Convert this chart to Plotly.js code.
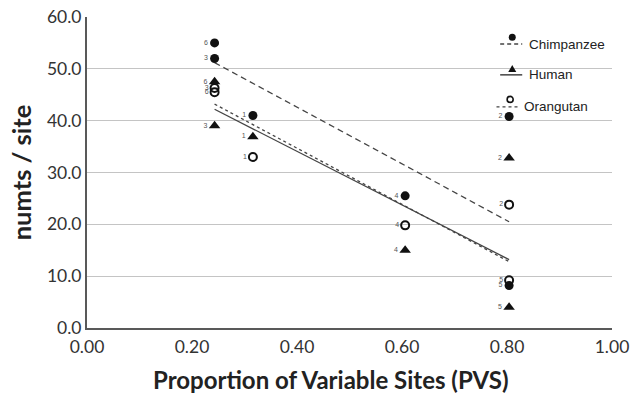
<!DOCTYPE html>
<html>
<head>
<meta charset="utf-8">
<script src="https://cdn.plot.ly/plotly-3.0.1.min.js"></script>
<style>html,body{margin:0;padding:0;background:#fff}#chart{width:630px;height:393px}</style>
</head>
<body>
<div id="chart"></div>
<script>
// Point labels (site numbers)
const labels = ["1", "2", "3", "4", "5", "6"];
// Proportion of Variable Sites for each site
const pvs = [0.316, 0.804, 0.243, 0.606, 0.804, 0.243];
// numts / site per species
const chimpanzee = [41.0, 40.8, 52.0, 25.5, 8.2, 55.0];
const human      = [36.9, 32.8, 39.0, 15.0, 4.0, 47.5];
const orangutan  = [33.0, 23.8, 46.3, 19.8, 9.2, 45.5];
// Trend line end points
const trendX = [0.243, 0.804];
const chimpTrend = [51.2, 20.5];
const humanTrend = [42.2, 13.2];
const orangTrend = [43.2, 12.8];
const yTicks = [0, 10, 20, 30, 40, 50, 60];
const xTicks = [0, 0.2, 0.4, 0.6, 0.8, 1.0];

const dark = '#111';
const lineCol = '#444';

function pts(y, symbol, name, lineW, fill, size) {
  return {
    x: pvs, y: y, type: 'scatter', mode: 'markers+text', name: name,
    text: labels, textposition: 'middle left',
    textfont: {family: 'Liberation Sans, Arial', size: 7, color: '#555'},
    marker: {symbol: symbol, size: size, color: fill, line: {color: dark, width: lineW}},
    showlegend: false, cliponaxis: false, hoverinfo: 'x+y'
  };
}
function trend(y, dash, w) {
  return {x: trendX, y: y, type: 'scatter', mode: 'lines',
          line: {color: lineCol, width: w, dash: dash}, showlegend: false, hoverinfo: 'skip'};
}

const data = [
  trend(chimpTrend, '6px,4px', 1.3),
  trend(humanTrend, 'solid', 1.3),
  trend(orangTrend, 'dot', 1.3),
  pts(chimpanzee, 'circle', 'Chimpanzee', 0, dark, 9),
  pts(human, 'triangle-up', 'Human', 0, dark, 10),
  pts(orangutan, 'circle-open', 'Orangutan', 2, dark, 8)
];

const tickFont = {family: 'Lato, Carlito, sans-serif', size: 17.5, color: '#333'};
const legTxt = {family: 'Liberation Sans, Arial', size: 13.5, color: '#222'};
const yTitleFont = {family: 'Lato, sans-serif', size: 25.5, color: '#222', weight: 'bold'};
const xTitleFont = {family: 'Lato, sans-serif', size: 24, color: '#222', weight: 'bold'};

function leg(x, y, text, font, xanchor) {
  return {xref: 'paper', yref: 'paper', x: x, y: y, text: text, showarrow: false,
          xanchor: xanchor, yanchor: 'middle', font: font};
}
function pixShape(type, x, y, extra) {
  return Object.assign({type: type, xref: 'paper', yref: 'paper', xsizemode: 'pixel', ysizemode: 'pixel',
                        xanchor: x, yanchor: y}, extra);
}

const layout = {
  width: 630, height: 393,
  margin: {l: 87, r: 18, t: 17, b: 65},
  paper_bgcolor: '#fff', plot_bgcolor: '#fff',
  xaxis: {
    range: [0, 1], tickvals: xTicks, tickformat: '.2f', showgrid: false,
    zeroline: false, showline: true, linecolor: '#595959', linewidth: 2,
    ticks: '', tickfont: tickFont, ticklabelstandoff: 2
  },
  yaxis: {
    range: [0, 60], tickvals: yTicks, tickformat: '.1f', showgrid: true,
    gridcolor: '#c4c4c4', gridwidth: 1.3, zeroline: false, showline: true,
    linecolor: '#595959', linewidth: 2, ticks: '', tickfont: tickFont,
    title: {text: 'numts / site', standoff: 8, font: yTitleFont}
  },
  shapes: [
    {type: 'line', xref: 'paper', yref: 'paper', x0: 0.787, x1: 0.829, y0: 0.913, y1: 0.913,
     line: {color: lineCol, width: 1.5, dash: '4px,3px'}},
    {type: 'line', xref: 'paper', yref: 'paper', x0: 0.787, x1: 0.829, y0: 0.814, y1: 0.814,
     line: {color: lineCol, width: 1.5}},
    {type: 'line', xref: 'paper', yref: 'paper', x0: 0.780, x1: 0.825, y0: 0.711, y1: 0.711,
     line: {color: lineCol, width: 1.2, dash: 'dot'}},
    pixShape('circle', 0.810, 0.935, {x0: -3.5, x1: 3.5, y0: -3.5, y1: 3.5, fillcolor: dark, line: {width: 0}}),
    pixShape('path', 0.810, 0.833, {path: 'M-4,-3 L4,-3 L0,4 Z', fillcolor: dark, line: {width: 0}}),
    pixShape('circle', 0.806, 0.735, {x0: -3, x1: 3, y0: -3, y1: 3, fillcolor: 'rgba(0,0,0,0)', line: {color: dark, width: 1.6}})
  ],
  annotations: [
    leg(0.838, 0.913, 'Chimpanzee', legTxt, 'left'),
    leg(0.838, 0.814, 'Human', legTxt, 'left'),
    leg(0.829, 0.711, 'Orangutan', legTxt, 'left'),
    {xref: 'paper', yref: 'paper', x: 0.463, y: -0.164, xanchor: 'center', yanchor: 'middle',
     text: 'Proportion of Variable Sites (PVS)', showarrow: false, font: xTitleFont}
  ]
};

Plotly.newPlot('chart', data, layout, {displayModeBar: false, staticPlot: true});
</script>
</body>
</html>
